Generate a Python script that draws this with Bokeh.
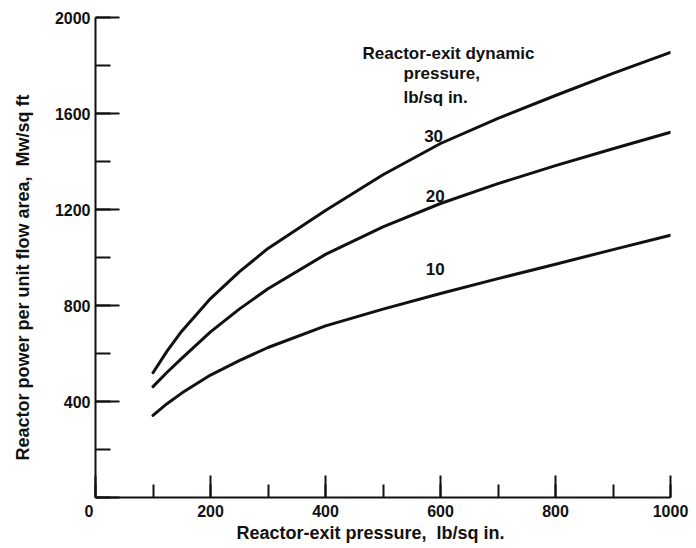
from bokeh.core.properties import value
from bokeh.embed import file_html
from bokeh.models import Label, Range1d, SingleIntervalTicker
from bokeh.plotting import figure
from bokeh.resources import INLINE

# Reactor-exit pressure, lb/sq in.
pressure = [100, 125, 150, 200, 250, 300, 400, 500, 600, 700, 800, 900, 1000]

# Reactor power per unit flow area, Mw/sq ft, for each reactor-exit dynamic pressure
power_q30 = [520, 612, 693, 829, 940, 1038, 1196, 1345, 1475, 1580, 1675, 1767, 1855]
power_q20 = [462, 523, 580, 690, 785, 870, 1013, 1128, 1225, 1308, 1383, 1453, 1522]
power_q10 = [342, 392, 435, 510, 570, 625, 715, 785, 850, 912, 972, 1033, 1093]

curve_names = ["30", "20", "10"]
curve_values = [power_q30, power_q20, power_q10]
# where each curve's tag sits (x in lb/sq in., y in Mw/sq ft)
tag_x = [588, 591, 591]
tag_y = [1508, 1258, 954]

FONT = "Liberation Sans"
INK = "#111111"
NBSP = "\u00a0"

# frame placement inside the 696 x 548 canvas
FRAME_LEFT, FRAME_RIGHT = 95, 670
FRAME_TOP, FRAME_BOTTOM = 17, 497
X0, X1, Y0, Y1 = 0, 1000, 0, 2000

p = figure(
    width=696, height=548,
    x_range=Range1d(X0, X1), y_range=Range1d(Y0, Y1),
    output_backend="svg", toolbar_location=None,
    min_border_left=FRAME_LEFT, min_border_right=696 - FRAME_RIGHT,
    min_border_top=FRAME_TOP, min_border_bottom=548 - FRAME_BOTTOM,
)
p.outline_line_color = None
p.grid.grid_line_color = None
p.background_fill_color = "white"
p.border_fill_color = "white"

for ax in (p.xaxis[0], p.yaxis[0]):
    ax.axis_line_width = 2
    ax.axis_line_color = INK
    ax.major_tick_line_width = 2
    ax.minor_tick_line_width = 2
    ax.major_tick_line_color = INK
    ax.minor_tick_line_color = INK
    ax.major_tick_out = 0
    ax.minor_tick_out = 0
    ax.major_label_text_font = FONT
    ax.major_label_text_font_style = "bold"
    ax.major_label_text_font_size = "16px"
    ax.major_label_text_color = INK
    ax.axis_label_text_font = FONT
    ax.axis_label_text_font_style = "bold"
    ax.axis_label_text_font_size = "18px"
    ax.axis_label_text_color = INK

p.xaxis.ticker = SingleIntervalTicker(interval=200, num_minor_ticks=2)
p.xaxis.major_tick_in = 22
p.xaxis.minor_tick_in = 13
p.xaxis.major_label_standoff = 5
# the shared origin "0" sits just left of the corner
p.xaxis.major_label_overrides = {0: "0" + NBSP * 3}
# trailing spaces pull the title's centre a little left of the frame centre
p.xaxis.axis_label = "Reactor-exit pressure," + NBSP * 2 + "lb/sq in." + NBSP * 5
p.xaxis.axis_label_standoff = 0

p.yaxis.ticker = SingleIntervalTicker(interval=400, num_minor_ticks=2)
p.yaxis.major_tick_in = 24
p.yaxis.minor_tick_in = 15
p.yaxis.major_label_standoff = 5
p.yaxis.major_label_overrides = {0: ""}
p.yaxis.axis_label = "Reactor power per unit flow area," + NBSP * 2 + "Mw/sq ft" + NBSP * 8
p.yaxis.axis_label_standoff = 19

for vals in curve_values:
    p.line(pressure, vals, line_color=INK, line_width=3, line_cap="round",
           line_join="round")

p.text(tag_x, tag_y, text=curve_names, text_font=value(FONT), text_font_style="bold",
       text_font_size="17px", text_color=INK, text_align="center", text_baseline="middle")


def canvas_label(text, sx, sy, align="left"):
    """Place a text inside the frame by canvas pixel position (sx from left, sy from top)."""
    dx = X0 + (sx - FRAME_LEFT) * (X1 - X0) / (FRAME_RIGHT - FRAME_LEFT)
    dy = Y0 + (FRAME_BOTTOM - sy) * (Y1 - Y0) / (FRAME_BOTTOM - FRAME_TOP)
    p.add_layout(Label(x=dx, y=dy, text=text,
                       text_font=FONT, text_font_style="bold", text_font_size="17px",
                       text_color=INK, text_align=align, text_baseline="middle"))


canvas_label("Reactor-exit dynamic", 362, 53)
canvas_label("pressure,", 403, 73)
canvas_label("lb/sq in.", 403, 97)

open("out.html", "w").write(file_html(p, INLINE))
